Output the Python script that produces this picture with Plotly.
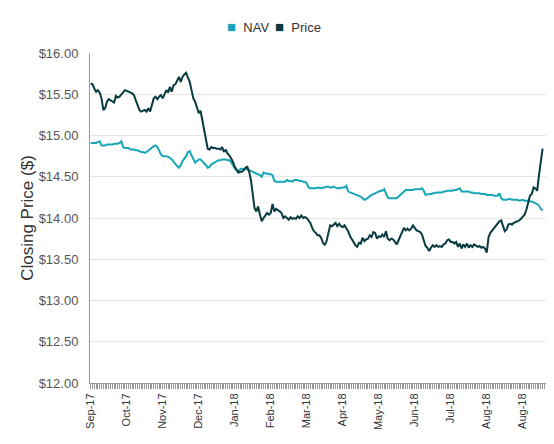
import plotly.graph_objects as go

# daily closing values, Sep-2017 .. Aug-2018
nav = [
    14.91, 14.91, 14.91, 14.91, 14.92, 14.93, 14.88, 14.88, 14.88, 14.89,
    14.89, 14.89, 14.89, 14.90, 14.90, 14.90, 14.91, 14.93, 14.86, 14.85,
    14.85, 14.85, 14.83, 14.83, 14.83, 14.82, 14.82, 14.81, 14.80, 14.80,
    14.79, 14.80, 14.82, 14.84, 14.86, 14.87, 14.88, 14.86, 14.82, 14.77,
    14.75, 14.75, 14.75, 14.74, 14.73, 14.71, 14.68, 14.66, 14.63, 14.61,
    14.64, 14.69, 14.72, 14.75, 14.80, 14.81, 14.76, 14.71, 14.67, 14.69,
    14.71, 14.71, 14.69, 14.67, 14.64, 14.61, 14.62, 14.65, 14.66, 14.68,
    14.69, 14.70, 14.70, 14.71, 14.71, 14.71, 14.70, 14.70, 14.68, 14.64,
    14.60, 14.58, 14.57, 14.59, 14.60, 14.59, 14.59, 14.59, 14.58, 14.57,
    14.56, 14.55, 14.54, 14.53, 14.52, 14.50, 14.55, 14.54, 14.54, 14.53,
    14.53, 14.52, 14.45, 14.44, 14.44, 14.44, 14.44, 14.44, 14.44, 14.46,
    14.45, 14.45, 14.44, 14.46, 14.46, 14.46, 14.45, 14.45, 14.44, 14.44,
    14.42, 14.37, 14.36, 14.36, 14.36, 14.36, 14.37, 14.36, 14.36, 14.37,
    14.37, 14.38, 14.38, 14.37, 14.37, 14.38, 14.37, 14.36, 14.36, 14.37,
    14.37, 14.37, 14.39, 14.32, 14.31, 14.31, 14.30, 14.29, 14.28, 14.27,
    14.26, 14.24, 14.22, 14.23, 14.25, 14.27, 14.28, 14.29, 14.30, 14.31,
    14.32, 14.33, 14.33, 14.35, 14.30, 14.25, 14.24, 14.24, 14.24, 14.24,
    14.24, 14.26, 14.28, 14.30, 14.32, 14.34, 14.34, 14.34, 14.34, 14.34,
    14.35, 14.35, 14.35, 14.35, 14.36, 14.33, 14.28, 14.29, 14.29, 14.29,
    14.30, 14.30, 14.31, 14.31, 14.31, 14.31, 14.32, 14.32, 14.33, 14.33,
    14.33, 14.33, 14.34, 14.34, 14.35, 14.36, 14.32, 14.32, 14.32, 14.32,
    14.32, 14.31, 14.31, 14.30, 14.30, 14.30, 14.30, 14.29, 14.29, 14.29,
    14.28, 14.28, 14.28, 14.28, 14.27, 14.27, 14.27, 14.30, 14.24, 14.22,
    14.22, 14.22, 14.23, 14.23, 14.22, 14.22, 14.22, 14.22, 14.21, 14.22,
    14.22, 14.21, 14.21, 14.21, 14.20, 14.20, 14.19, 14.18, 14.17, 14.15,
    14.11, 14.09,
]

price = [
    15.63, 15.62, 15.57, 15.53, 15.55, 15.52, 15.45, 15.31, 15.33, 15.41,
    15.44, 15.43, 15.41, 15.40, 15.48, 15.46, 15.47, 15.50, 15.53, 15.55,
    15.54, 15.53, 15.52, 15.51, 15.49, 15.42, 15.35, 15.31, 15.29, 15.30,
    15.31, 15.29, 15.33, 15.29, 15.37, 15.45, 15.47, 15.44, 15.47, 15.49,
    15.45, 15.51, 15.55, 15.52, 15.59, 15.53, 15.61, 15.62, 15.67, 15.71,
    15.65, 15.71, 15.74, 15.76, 15.70, 15.65, 15.55, 15.45, 15.41, 15.33,
    15.27, 15.30, 15.19, 15.08, 14.95, 14.84, 14.83, 14.86, 14.85, 14.85,
    14.84, 14.84, 14.83, 14.86, 14.80, 14.83, 14.78, 14.76, 14.72, 14.68,
    14.62, 14.58, 14.55, 14.56, 14.56, 14.58, 14.61, 14.62, 14.56, 14.46,
    14.30, 14.12, 14.08, 14.14, 14.04, 13.96, 14.00, 14.03, 14.06, 14.04,
    14.06, 14.17, 14.08, 14.11, 14.10, 14.08, 14.06, 14.00, 14.02, 14.00,
    13.98, 14.01, 13.99, 14.00, 13.99, 14.02, 14.00, 14.03, 14.00, 14.01,
    14.00, 13.97, 13.94, 13.88, 13.84, 13.82, 13.79, 13.79, 13.76, 13.70,
    13.67, 13.72, 13.82, 13.91, 13.90, 13.92, 13.94, 13.90, 13.93, 13.90,
    13.89, 13.91, 13.88, 13.84, 13.78, 13.75, 13.71, 13.67, 13.65, 13.70,
    13.69, 13.76, 13.72, 13.74, 13.75, 13.79, 13.77, 13.83, 13.82, 13.75,
    13.78, 13.77, 13.80, 13.77, 13.84, 13.75, 13.73, 13.75, 13.74, 13.71,
    13.68, 13.73, 13.78, 13.84, 13.88, 13.85, 13.87, 13.85, 13.87, 13.91,
    13.88, 13.85, 13.84, 13.83, 13.80, 13.72, 13.66, 13.64, 13.60, 13.64,
    13.67, 13.65, 13.67, 13.65, 13.66, 13.65, 13.68, 13.69, 13.73, 13.74,
    13.71, 13.71, 13.69, 13.71, 13.65, 13.69, 13.63, 13.68, 13.65, 13.69,
    13.64, 13.67, 13.65, 13.68, 13.66, 13.65, 13.66, 13.64, 13.65, 13.63,
    13.58, 13.77, 13.82, 13.85, 13.88, 13.91, 13.93, 13.96, 13.97, 13.89,
    13.84, 13.86, 13.92, 13.93, 13.92, 13.94, 13.95, 13.96, 13.97, 13.99,
    14.02, 14.04, 14.10, 14.18, 14.27, 14.29, 14.37, 14.36, 14.33, 14.52,
    14.68, 14.84,
]

# one label every 20 trading days
month_labels = ["Sep-17", "Oct-17", "Nov-17", "Dec-17", "Jan-18", "Feb-18", "Mar-18",
                "Apr-18", "May-18", "Jun-18", "Jul-18", "Aug-18", "Aug-18"]
label_step = 20

NAV_COLOR = "#17a6b8"
PRICE_COLOR = "#073b40"
FONT = "Liberation Sans, Arial, sans-serif"

days = list(range(len(price)))

fig = go.Figure()
fig.add_trace(go.Scatter(x=days, y=nav, mode="lines", name="NAV",
                         line=dict(color=NAV_COLOR, width=2)))
fig.add_trace(go.Scatter(x=days, y=price, mode="lines", name="Price",
                         line=dict(color=PRICE_COLOR, width=2)))

# legend as text: coloured square + series name, centred above the plot
for name, col, xpos in [("NAV", NAV_COLOR, 0.296), ("Price", PRICE_COLOR, 0.402)]:
    fig.add_annotation(
        xref="paper", yref="paper", x=xpos, y=1.079,
        xanchor="left", yanchor="middle", showarrow=False,
        text=f"<span style='color:{col};font-size:15px'>■</span>&nbsp; {name}",
        font=dict(family=FONT, size=13, color="#333333"),
    )

fig.update_layout(
    width=554, height=444,
    margin=dict(l=90, r=8, t=53, b=61),
    paper_bgcolor="white", plot_bgcolor="white",
    font=dict(family=FONT, size=12, color="#333333"),
    showlegend=False,
    xaxis=dict(
        range=[-0.4, len(price) + 0.9],
        tickmode="array",
        tickvals=[k * label_step for k in range(len(month_labels))],
        ticktext=month_labels,
        tickangle=-90,
        tickfont=dict(size=11, color="#333333"),
        ticks="outside", ticklen=5, tickcolor="#999999", tickwidth=1,
        minor=dict(tickmode="linear", tick0=0, dtick=1, ticks="outside",
                   ticklen=5, tickcolor="#999999", tickwidth=1, showgrid=False),
        showgrid=False, zeroline=False,
        showline=True, linecolor="#999999", linewidth=1,
        automargin=False,
    ),
    yaxis=dict(
        range=[12, 16], dtick=0.5, tick0=12,
        tickprefix="$", tickformat=".2f",
        tickfont=dict(size=13, color="#555555"),
        showgrid=True, gridcolor="#e6e6e6", gridwidth=1,
        zeroline=False, showline=True, linecolor="#999999", linewidth=1,
        ticks="", ticklabelstandoff=8,
        title=dict(text="Closing Price ($)", font=dict(size=17, color="#333333"),
                   standoff=0),
        automargin=False,
    ),
)

# the page body has a default 8px margin; drop it so the chart sits at (0, 0)
fig.write_html("out.html", config={"displayModeBar": False},
               post_script="document.body.style.margin='0';")
